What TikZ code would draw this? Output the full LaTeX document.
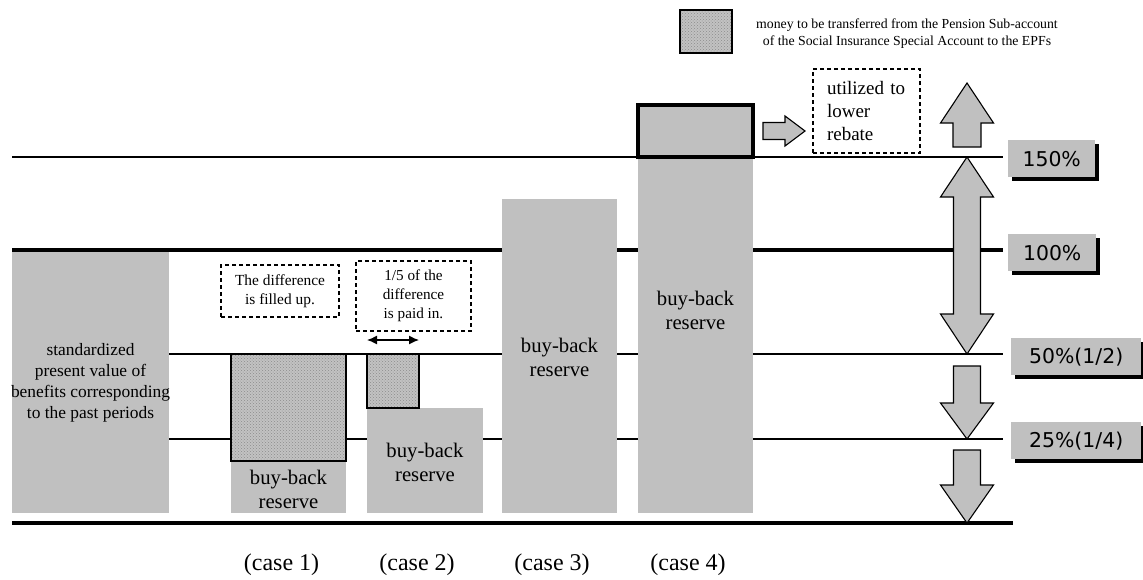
\documentclass[tikz,border=0pt]{standalone}
\usepackage{fontspec}
\setmainfont{Liberation Serif}
\newfontfamily\labfont{DejaVu Sans}
\usetikzlibrary{patterns,arrows.meta,shadows}
\definecolor{boxgray}{RGB}{192,192,192}
\tikzset{
  bar/.style={fill=boxgray,draw=none},
  hatch/.style={preaction={fill=black!24},pattern=crosshatch dots,pattern color=black!45,draw=black,line width=1.5pt},
  thinline/.style={line width=1.2pt},
  thickline/.style={line width=4pt},
  blockarrow/.style={fill=boxgray,draw=black,line width=1.1pt,line join=miter},
  dashbox/.style={draw=black,dashed,line width=1.5pt,dash pattern=on 4pt off 3pt,inner sep=0pt,align=center},
  pct/.style={fill=boxgray,inner sep=0pt,anchor=north west,minimum height=37pt,
     font=\labfont\fontsize{20.4}{22}\selectfont,
     drop shadow={shadow xshift=4pt,shadow yshift=-4pt,fill=black,opacity=1}},
  bbtext/.style={align=center,font=\fontsize{20.7}{24.8}\selectfont,inner sep=0pt},
  caselab/.style={font=\fontsize{24}{28}\selectfont,inner sep=0pt},
}
\begin{document}
\begin{tikzpicture}[x=1pt,y=-1pt]
\useasboundingbox (0,0) rectangle (1143,579);
% level lines
\draw[thinline] (12,157) -- (1003,157);
\draw[thickline] (12,250) -- (1003,250);
\draw[thinline] (12,354) -- (1003,354);
\draw[thinline] (12,439) -- (1003,439);
\draw[thickline] (12,523) -- (1013,523);

% left box
\path[bar] (12,252) rectangle (169,513);
\node[align=center,font=\fontsize{17.4}{20.8}\selectfont,inner sep=0pt] (past) at (90.5,383)
  {standardized\\present value of\\benefits corresponding\\to the past periods};

% case 1
\path[bar] (231,354) rectangle (346,513);
\path[hatch] (231,354) rectangle (346,461);
\node[bbtext] (bb1) at (288.5,489.5) {buy-back\\reserve};
\node[dashbox,minimum width=118pt,minimum height=52pt,font=\fontsize{15.4}{18.5}\selectfont] (diff1) at (280,291)
  {The difference\\is filled up.};

% case 2
\path[bar] (367,408) rectangle (483,513);
\path[hatch] (367,354) rectangle (419,408);
\node[bbtext] (bb2) at (425,462.5) {buy-back\\reserve};
\node[dashbox,minimum width=115pt,minimum height=70pt,font=\fontsize{15.2}{18.8}\selectfont] (diff2) at (413.5,296)
  {1/5 of the\\difference\\is paid in.};
\coordinate (dl) at (367,340);
\coordinate (dr) at (419,340);
\draw[{Latex[length=10pt,width=9pt]}-{Latex[length=10pt,width=9pt]},line width=1.3pt] (dl) -- (dr);

% case 3
\path[bar] (502,199) rectangle (617,513);
\node[bbtext] (bb3) at (559.5,357.5) {buy-back\\reserve};

% case 4
\path[bar] (638,157) rectangle (753,513);
\node[bbtext] (bb4) at (695.5,310.5) {buy-back\\reserve};
\draw[fill=boxgray,line width=3.5pt] (638,105) rectangle (753,157);

% right arrow to rebate
\path[blockarrow] (763,122.5) -- (785,122.5) -- (785,116) -- (805,131) -- (785,146) -- (785,139.5) -- (763,139.5) -- cycle;
\node[dashbox,minimum height=84pt,text width=79pt,inner xsep=14pt,align=left,font=\fontsize{19}{23.3}\selectfont] (rebate) at (866.5,111)
  {utilized to\\lower\\rebate};

% vertical block arrows
\path[blockarrow] (967,83) -- (993.5,123) -- (981,123) -- (981,147) -- (953,147) -- (953,123) -- (940.5,123) -- cycle;
\path[blockarrow] (967,157) -- (993.5,197) -- (980.5,197) -- (980.5,314) -- (993.5,314) -- (967,354)
   -- (940.5,314) -- (953.5,314) -- (953.5,197) -- (940.5,197) -- cycle;
\path[blockarrow] (953.5,366) -- (980.5,366) -- (980.5,403) -- (993.5,403) -- (967,439) -- (940.5,403) -- (953.5,403) -- cycle;
\path[blockarrow] (953.5,450) -- (980.5,450) -- (980.5,485) -- (993.5,485) -- (967,523) -- (940.5,485) -- (953.5,485) -- cycle;

% percentage labels
\node[pct,minimum width=87pt] (p150) at (1008,140) {150\%};
\node[pct,minimum width=88pt] (p100) at (1008,234) {100\%};
\node[pct,minimum width=130pt] (p50) at (1011,338) {50\%(1/2)};
\node[pct,minimum width=130pt] (p25) at (1011,422) {25\%(1/4)};

% legend
\path[hatch] (680,10) rectangle (732,53);
\node[align=center,font=\fontsize{13.8}{16.6}\selectfont,inner sep=0pt] (legend) at (907,33.5)
  {money to be transferred from the Pension Sub-account\\of the Social Insurance Special Account to the EPFs};

% case labels
\node[caselab] (c1) at (281.5,565) {(case 1)};
\node[caselab] (c2) at (417,565) {(case 2)};
\node[caselab] (c3) at (552,565) {(case 3)};
\node[caselab] (c4) at (688,565) {(case 4)};
\end{tikzpicture}
\end{document}
